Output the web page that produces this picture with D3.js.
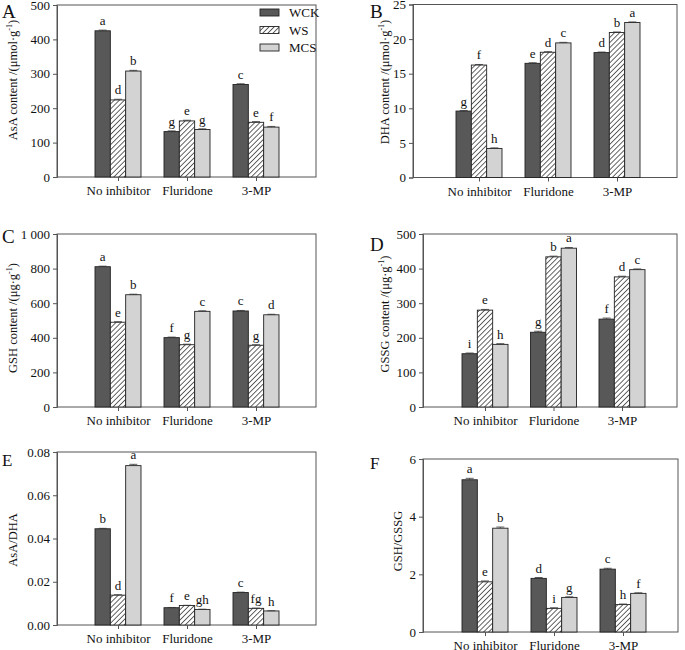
<!DOCTYPE html>
<html><head><meta charset="utf-8">
<script src="https://cdn.jsdelivr.net/npm/d3@7"></script>
<style>body{margin:0;background:#fff}svg{display:block}text{font-family:"Liberation Serif","Times New Roman",serif;fill:#111}</style>
</head><body><svg id="c" width="685" height="650"></svg>
<script>
const categories = ["No inhibitor", "Fluridone", "3-MP"];
const series = ["WCK", "WS", "MCS"];

// Panel A: AsA content
const asaValues = [[425, 132, 269], [224, 163, 159], [308, 138, 145]];
const asaErrors = [[2, 2, 2], [2, 2, 2], [2, 2, 2]];
const asaLetters = [["a", "g", "c"], ["d", "e", "e"], ["b", "g", "f"]];
// Panel B: DHA content
const dhaValues = [[9.6, 16.5, 18.05], [16.25, 18.1, 20.95], [4.2, 19.45, 22.4]];
const dhaErrors = [[0.08, 0.08, 0.08], [0.08, 0.08, 0.08], [0.08, 0.08, 0.08]];
const dhaLetters = [["g", "e", "d"], ["f", "d", "b"], ["h", "c", "a"]];
// Panel C: GSH content
const gshValues = [[811, 401, 555], [490, 360, 357], [649, 553, 533]];
const gshErrors = [[3, 3, 3], [3, 3, 3], [3, 3, 3]];
const gshLetters = [["a", "f", "c"], ["e", "g", "g"], ["b", "c", "d"]];
// Panel D: GSSG content
const gssgValues = [[154, 216, 254], [280, 434, 376], [181, 459, 397]];
const gssgErrors = [[2, 3, 3], [2, 2, 2], [2, 2, 2]];
const gssgLetters = [["i", "g", "f"], ["e", "b", "d"], ["h", "a", "c"]];
// Panel E: AsA/DHA
const ratioAValues = [[0.0445, 0.0080, 0.0150], [0.0138, 0.0090, 0.0077], [0.0737, 0.0072, 0.0065]];
const ratioAErrors = [[0.0002, 0.0001, 0.0002], [0.0002, 0.0001, 0.0001], [0.0006, 0.0001, 0.0001]];
const ratioALetters = [["b", "f", "c"], ["d", "e", "fg"], ["a", "gh", "h"]];
// Panel F: GSH/GSSG
const ratioGValues = [[5.28, 1.86, 2.18], [1.74, 0.82, 0.95], [3.6, 1.2, 1.34]];
const ratioGErrors = [[0.05, 0.03, 0.03], [0.03, 0.02, 0.02], [0.04, 0.02, 0.02]];
const ratioGLetters = [["a", "d", "c"], ["e", "i", "h"], ["b", "g", "f"]];

const yTicksA = [0, 100, 200, 300, 400, 500];
const yTicksB = [0, 5, 10, 15, 20, 25];
const yTicksC = [0, 200, 400, 600, 800, 1000];
const yTicksD = [0, 100, 200, 300, 400, 500];
const yTicksE = [0, 0.02, 0.04, 0.06, 0.08];
const yTicksF = [0, 2, 4, 6];

const svg = d3.select("#c");
const defs = svg.append("defs");
const pat = defs.append("pattern").attr("id", "hatch").attr("patternUnits", "userSpaceOnUse")
  .attr("width", 3.6).attr("height", 3.6).attr("patternTransform", "rotate(45)");
pat.append("rect").attr("width", 3.6).attr("height", 3.6).attr("fill", "#fff");
pat.append("line").attr("x1", 0).attr("y1", 0).attr("x2", 0).attr("y2", 3.6).attr("stroke", "#111").attr("stroke-width", 1.3);

const fills = {WCK: "#585858", WS: "url(#hatch)", MCS: "#d3d3d3"};

function panel(cfg) {
  const g = svg.append("g");
  const y = d3.scaleLinear().domain([0, cfg.yMax]).range([cfg.bottom, cfg.top]);
  const x = d3.scalePoint().domain(categories).range([cfg.left + cfg.inset[0], cfg.right - cfg.inset[1]]);
  const xs = d3.scaleBand().domain(series).range([-23, 23]).padding(0);

  // frame
  g.append("rect").attr("x", cfg.left).attr("y", cfg.top).attr("width", cfg.right - cfg.left)
    .attr("height", cfg.bottom - cfg.top).attr("fill", "none").attr("stroke", "#555").attr("stroke-width", 1);

  // bars
  series.forEach((s, si) => {
    categories.forEach((c, ci) => {
      const v = cfg.values[si][ci], e = cfg.errors[si][ci];
      const bx = x(c) + xs(s);
      const bw = xs.bandwidth();
      g.append("rect").attr("x", bx).attr("y", y(v)).attr("width", bw).attr("height", y(0) - y(v))
        .attr("fill", fills[s]).attr("stroke", "#222").attr("stroke-width", 0.9);
      const cx = bx + bw / 2;
      g.append("line").attr("x1", cx).attr("x2", cx).attr("y1", y(v + e)).attr("y2", y(v)).attr("stroke", "#333").attr("stroke-width", 0.8);
      g.append("line").attr("x1", cx - 4).attr("x2", cx + 4).attr("y1", y(v + e)).attr("y2", y(v + e)).attr("stroke", "#333").attr("stroke-width", 0.8);
      g.append("text").attr("x", cx).attr("y", y(v + e) - 5).attr("text-anchor", "middle")
        .style("font-size", "13px").text(cfg.letters[si][ci]);
    });
  });

  // axes
  const ya = g.append("g").attr("transform", `translate(${cfg.left},0)`)
    .call(d3.axisLeft(y).tickValues(cfg.ticks).tickSize(4).tickPadding(3).tickFormat(cfg.fmt));
  ya.select(".domain").attr("stroke", "#555");
  ya.selectAll(".tick line").attr("stroke", "#555");
  ya.selectAll("text").style("font-size", "13px").style("font-family", "Liberation Serif").attr("fill", "#111");
  const xa = g.append("g").attr("transform", `translate(0,${cfg.bottom})`)
    .call(d3.axisBottom(x).tickSize(4).tickPadding(5));
  xa.select(".domain").remove();
  xa.selectAll(".tick line").attr("stroke", "#555");
  xa.selectAll("text").style("font-size", "13px").style("font-family", "Liberation Serif").attr("fill", "#111");

  // panel label
  g.append("text").attr("x", cfg.labelPos[0]).attr("y", cfg.labelPos[1]).style("font-size", cfg.labelSize || "19px").text(cfg.label);

  // y title
  const t = g.append("text").attr("transform", `translate(${cfg.titlePos[0]},${cfg.titlePos[1]}) rotate(-90)`)
    .attr("text-anchor", "middle").style("font-size", "12.5px");
  t.append("tspan").text(cfg.title[0]);
  if (cfg.title[1]) {
    t.append("tspan").attr("dy", -5).style("font-size", "8px").text(cfg.title[1]);
    t.append("tspan").attr("dy", 5).text(cfg.title[2]);
  }
  return {g, x, xs, y};
}

const pA = panel({left: 57, right: 316, top: 5, bottom: 177, inset: [61, 60], yMax: 500, ticks: yTicksA, fmt: d3.format("d"),
  values: asaValues, errors: asaErrors, letters: asaLetters, label: "A", labelPos: [2, 18],
  title: ["AsA content /(μmol·g", "-1", ")"], titlePos: [17, 80]});
panel({left: 413, right: 677, top: 4.5, bottom: 177.5, inset: [66, 60], yMax: 25, ticks: yTicksB, fmt: d3.format("d"),
  values: dhaValues, errors: dhaErrors, letters: dhaLetters, label: "B", labelPos: [370, 18],
  title: ["DHA content /(μmol·g", "-1", ")"], titlePos: [389, 82]});
panel({left: 57, right: 316, top: 234, bottom: 407, inset: [61, 60], yMax: 1000, ticks: yTicksC,
  fmt: d => d >= 1000 ? "1 000" : String(d),
  values: gshValues, errors: gshErrors, letters: gshLetters, label: "C", labelPos: [2, 243],
  title: ["GSH content /(μg·g", "-1", ")"], titlePos: [17, 318]});
panel({left: 423, right: 677, top: 234, bottom: 407, inset: [62, 55], yMax: 500, ticks: yTicksD, fmt: d3.format("d"),
  values: gssgValues, errors: gssgErrors, letters: gssgLetters, label: "D", labelPos: [370, 251],
  title: ["GSSG content /(μg·g", "-1", ")"], titlePos: [389, 314]});
panel({left: 57, right: 316, top: 452, bottom: 625, inset: [61, 60], yMax: 0.08, ticks: yTicksE, fmt: d3.format(".2f"),
  values: ratioAValues, errors: ratioAErrors, letters: ratioALetters, label: "E", labelPos: [2, 466], labelSize: "17px",
  title: ["AsA/DHA"], titlePos: [17, 540]});
panel({left: 423, right: 678, top: 459, bottom: 632, inset: [62, 55], yMax: 6, ticks: yTicksF, fmt: d3.format("d"),
  values: ratioGValues, errors: ratioGErrors, letters: ratioGLetters, label: "F", labelPos: [370, 469], labelSize: "17px",
  title: ["GSH/GSSG"], titlePos: [402, 541]});

// legend in panel A
const leg = pA.g.append("g");
series.forEach((s, i) => {
  const ly = 12.5 + i * 17.5;
  leg.append("rect").attr("x", 260).attr("y", ly - 3.5).attr("width", 19).attr("height", 7)
    .attr("fill", fills[s]).attr("stroke", "#222").attr("stroke-width", 0.9);
  leg.append("text").attr("x", 289).attr("y", ly + 4.5).style("font-size", "13px").text(s);
});
</script></body></html>
